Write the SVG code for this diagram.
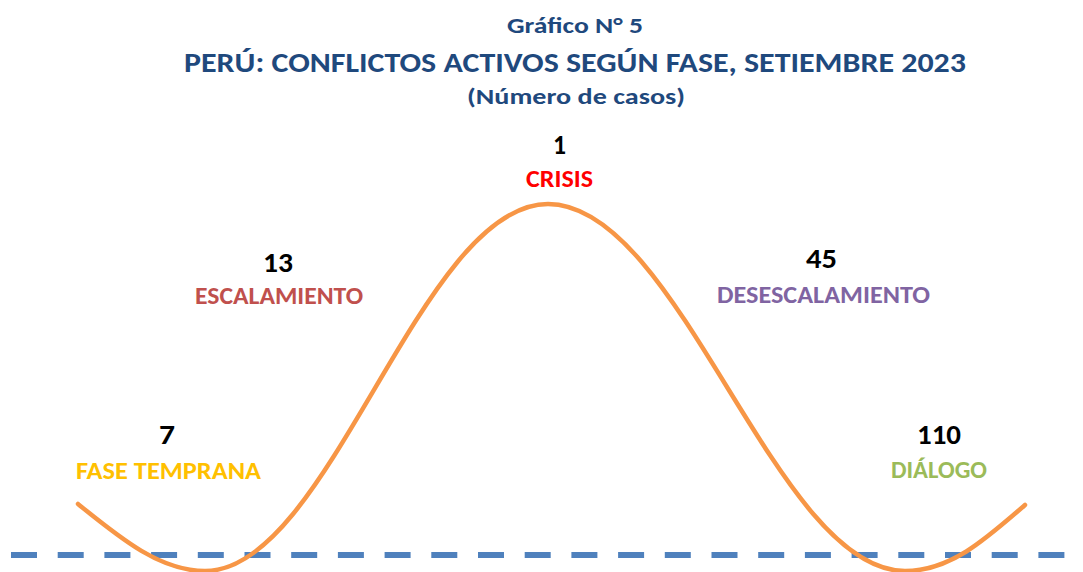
<svg xmlns="http://www.w3.org/2000/svg" width="1083" height="572" viewBox="0 0 1083 572">
<style>
text{font-family:Carlito,"Liberation Sans",Arial,sans-serif;font-weight:bold;text-anchor:middle}
.t{fill:#1F497D}
.n{fill:#000;font-size:28px}
.l{font-size:24px}
</style>
<rect width="1083" height="572" fill="#fff"/>
<g id="title">
<text class="t" x="575" y="33" font-size="23" textLength="136" lengthAdjust="spacingAndGlyphs">Gráfico N° 5</text>
<text class="t" x="575" y="72" font-size="28.5" textLength="782" lengthAdjust="spacingAndGlyphs">PERÚ: CONFLICTOS ACTIVOS SEGÚN FASE, SETIEMBRE 2023</text>
<text class="t" x="576" y="104" font-size="23" textLength="218" lengthAdjust="spacingAndGlyphs">(Número de casos)</text>
</g>
<g id="connectors">
<line x1="11" y1="555" x2="1083" y2="555" stroke="#4F81BD" stroke-width="6" stroke-dasharray="26 20.7"/>
<path d="M78,504 C120,538 160,571 205,571 C330,571 420,204 548,204 C680,204 775,571 905,571 C950,571 985,540 1025,505" fill="none" stroke="#F79646" stroke-width="4.5" stroke-linecap="round"/>
</g>
<g id="crisis">
<text class="n" x="559.5" y="154" textLength="13" lengthAdjust="spacingAndGlyphs">1</text>
<text class="l" x="559.5" y="187" fill="#FF0000" textLength="67" lengthAdjust="spacingAndGlyphs">CRISIS</text>
</g>
<g id="escalamiento">
<text class="n" x="278" y="272" textLength="30" lengthAdjust="spacingAndGlyphs">13</text>
<text class="l" x="279" y="304" fill="#C0504D" textLength="168" lengthAdjust="spacingAndGlyphs">ESCALAMIENTO</text>
</g>
<g id="desescalamiento">
<text class="n" x="821.5" y="268" textLength="31" lengthAdjust="spacingAndGlyphs">45</text>
<text class="l" x="823.5" y="303" fill="#8064A2" textLength="213" lengthAdjust="spacingAndGlyphs">DESESCALAMIENTO</text>
</g>
<g id="fase-temprana">
<text class="n" x="167" y="444" textLength="16" lengthAdjust="spacingAndGlyphs">7</text>
<text class="l" x="168.5" y="479" fill="#FFC000" textLength="185" lengthAdjust="spacingAndGlyphs">FASE TEMPRANA</text>
</g>
<g id="dialogo">
<text class="n" x="939" y="444" textLength="44" lengthAdjust="spacingAndGlyphs">110</text>
<text class="l" x="939" y="478" fill="#9BBB59" textLength="96" lengthAdjust="spacingAndGlyphs">DIÁLOGO</text>
</g>
</svg>
